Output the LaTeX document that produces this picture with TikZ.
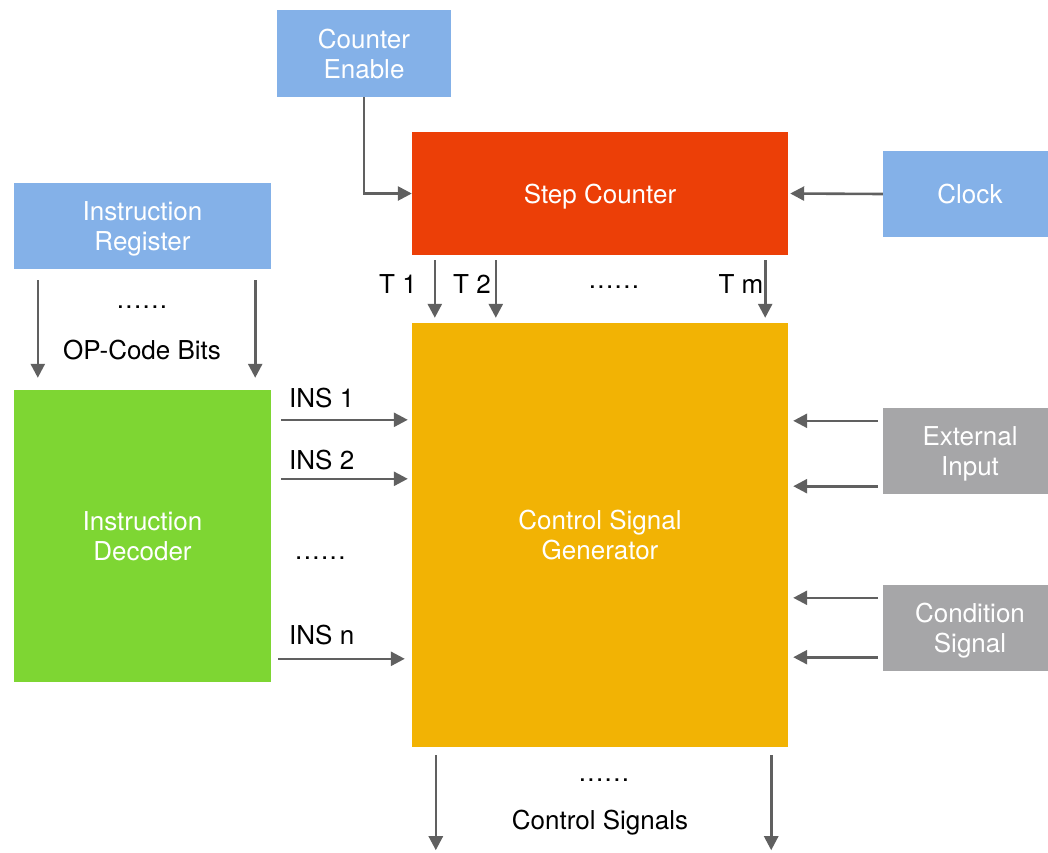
\documentclass[tikz,border=0pt]{standalone}
\usepackage{fontspec}
\setmainfont{TeX Gyre Heros}
\usetikzlibrary{arrows.meta,calc}
\definecolor{cblue}{HTML}{84B1E8}
\definecolor{cred}{HTML}{EC3F07}
\definecolor{cgreen}{HTML}{7ED633}
\definecolor{corange}{HTML}{F2B304}
\definecolor{cgray}{HTML}{A6A6A8}
\definecolor{carrow}{HTML}{606060}
\newcommand\mydots{.\kern1.4pt.\kern1.4pt.\kern1.4pt.\kern1.4pt.\kern1.4pt.}
\tikzset{
  box/.style={rectangle, draw=none, text=white, align=center, inner sep=0pt,
    text depth=0pt, font=\fontsize{26}{30}\selectfont},
  lbl/.style={text=black, inner sep=0pt, text depth=0pt, font=\fontsize{26}{30}\selectfont},
  arr/.style={draw=carrow, line width=2.6pt, -{Triangle[length=14pt,width=14pt]}}
}
\begin{document}
\begin{tikzpicture}[x=1pt,y=-1pt]
\useasboundingbox (0,0) rectangle (1048,852);
% boxes
\node[box, fill=cblue, minimum width=174, minimum height=87] (ce) at (364,53.5) {Counter\\Enable};
\node[box, fill=cred, minimum width=376, minimum height=123] (sc) at (600,193.5) {Step Counter};
\node[box, fill=cblue, minimum width=174, minimum height=86] (clk) at (970,194) {Clock};
\node[box, fill=cblue, minimum width=257, minimum height=86] (ir) at (142.5,226) {Instruction\\Register};
\node[box, fill=cgreen, minimum width=257, minimum height=292] (id) at (142.5,536) {Instruction\\Decoder};
\node[box, fill=corange, minimum width=376, minimum height=424] (csg) at (600,535) {Control Signal\\Generator};
\node[box, fill=cgray, minimum width=174, minimum height=86] (ext) at (970,451) {External\\Input};
\node[box, fill=cgray, minimum width=174, minimum height=86] (cond) at (970,628) {Condition\\Signal};
% labels
\node[lbl] (t1) at (398,284) {T 1};
\node[lbl] (t2) at (472,284) {T 2};
\node[lbl] (tdots) at (614,287) {\mydots};
\node[lbl] (tm) at (741,284) {T m};
\node[lbl] (irdots) at (142,307) {\mydots};
\node[lbl] (opc) at (142,350) {OP-Code Bits};
\node[lbl, anchor=west] (ins1) at (289,398) {INS 1};
\node[lbl, anchor=west] (ins2) at (289,460) {INS 2};
\node[lbl, anchor=west] (insdots) at (295,558) {\mydots};
\node[lbl, anchor=west] (insn) at (289,635) {INS n};
\node[lbl] (csdots) at (604,780) {\mydots};
\node[lbl] (cs) at (600,820) {Control Signals};
% connectors
\draw[arr] (ce.south) |- (sc.west);
\draw[arr] (clk.west) -- ($(sc.east)+(2,0)$);
\draw[arr] ($(sc.south west)+(23,5)$) -- ($(csg.north west)+(23,-5)$);
\draw[arr] ($(sc.south west)+(84,5)$) -- ($(csg.north west)+(84,-5)$);
\draw[arr] ($(sc.south east)+(-23,5)$) -- ($(csg.north east)+(-23,-5)$);
\draw[arr] ($(ir.south west)+(24,11)$) -- ($(id.north west)+(24,-12)$);
\draw[arr] ($(ir.south east)+(-16,11)$) -- ($(id.north east)+(-16,-12)$);
\draw[arr] ($(id.north east)+(10,30)$) -- ($(csg.west |- id.north)+(-4,30)$);
\draw[arr] ($(id.north east)+(10,89)$) -- ($(csg.west |- id.north)+(-4,89)$);
\draw[arr] ($(id.north east)+(7,269)$) -- ($(csg.west |- id.north)+(-7,269)$);
\draw[arr] ($(ext.north west)+(-5,13)$) -- ($(csg.east |- ext.north)+(5,13)$);
\draw[arr] ($(ext.south west)+(-5,-8)$) -- ($(csg.east |- ext.south)+(5,-8)$);
\draw[arr] ($(cond.north west)+(-5,13)$) -- ($(csg.east |- cond.north)+(5,13)$);
\draw[arr] ($(cond.south west)+(-5,-14)$) -- ($(csg.east |- cond.south)+(5,-14)$);
\draw[arr] ($(csg.south west)+(24,8)$) -- ($(csg.south west)+(24,103)$);
\draw[arr] ($(csg.south east)+(-17,8)$) -- ($(csg.south east)+(-17,103)$);
\end{tikzpicture}
\end{document}
